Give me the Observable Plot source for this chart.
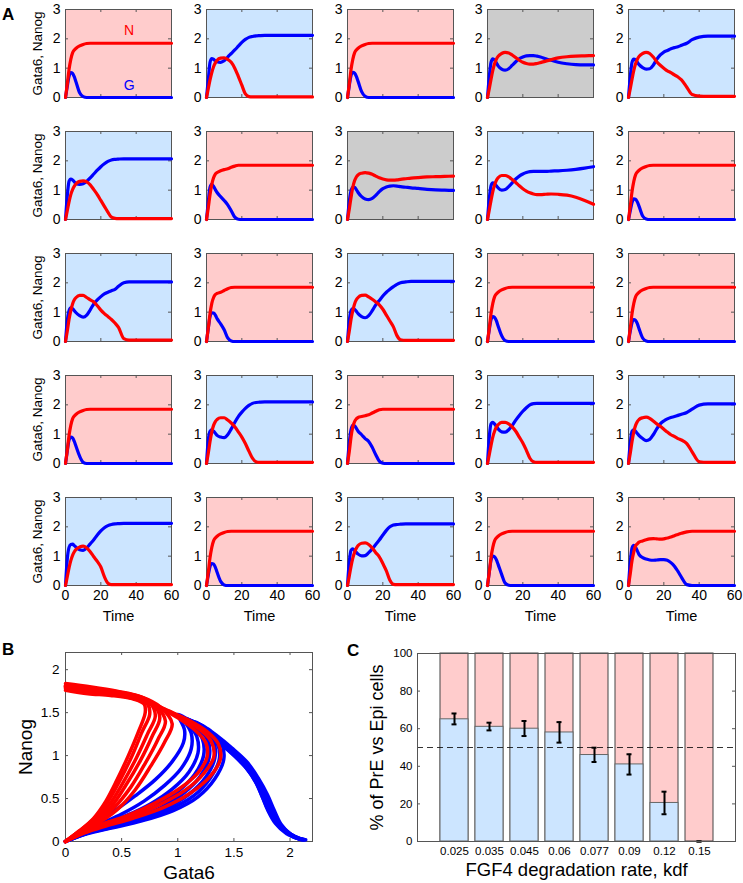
<!DOCTYPE html>
<html><head><meta charset="utf-8">
<script src="https://cdn.jsdelivr.net/npm/d3@7"></script>
<script src="https://cdn.jsdelivr.net/npm/@observablehq/plot@0.6"></script>
<style>
body{margin:0;background:#fff;}
#root{position:relative;width:743px;height:883px;font-family:"Liberation Sans",Arial,Helvetica,sans-serif;overflow:hidden;}
#root svg{position:absolute;overflow:visible;}
.letter{position:absolute;font-weight:bold;font-size:17px;line-height:17px;font-family:"Liberation Sans",Arial,sans-serif;}
</style></head><body><div id="root"></div>
<script>
// ---------- Panel A data ----------
const time = [0,1,2,3,4,5,6,8,10,12,14,16,18,20,22,24,26,28,30,33,36,40,45,50,55,60];
const fates = ["Epi","PrE","Epi","Und","PrE",
               "PrE","Epi","Und","PrE","Epi",
               "PrE","Epi","PrE","Epi","Epi",
               "Epi","PrE","Epi","PrE","PrE",
               "PrE","Epi","PrE","Epi","Epi"];
const gata6 = [
 [0,0.38,0.72,0.85,0.82,0.7,0.52,0.16,0.03,0,0,0,0,0,0,0,0,0,0,0,0,0,0,0,0,0],
 [0,0.6,1.2,1.33,1.3,1.25,1.22,1.2,1.25,1.38,1.5,1.62,1.75,1.88,1.98,2.05,2.08,2.1,2.11,2.12,2.12,2.12,2.12,2.12,2.12,2.12],
 [0,0.4,0.75,0.86,0.83,0.72,0.55,0.2,0.04,0,0,0,0,0,0,0,0,0,0,0,0,0,0,0,0,0],
 [0,0.7,1.2,1.32,1.28,1.18,1.08,0.97,0.93,0.98,1.1,1.22,1.32,1.38,1.42,1.43,1.43,1.41,1.38,1.32,1.27,1.2,1.15,1.12,1.11,1.11],
 [0,0.7,1.2,1.31,1.28,1.2,1.12,1.02,0.97,0.98,1.1,1.3,1.45,1.55,1.6,1.66,1.7,1.73,1.78,1.85,1.97,2.06,2.09,2.09,2.09,2.09],
 [0,0.8,1.3,1.38,1.35,1.28,1.22,1.2,1.22,1.3,1.42,1.55,1.68,1.8,1.9,1.98,2.03,2.05,2.06,2.07,2.07,2.07,2.07,2.07,2.07,2.07],
 [0,0.6,1.1,1.2,1.13,1.02,0.92,0.78,0.65,0.5,0.3,0.08,0.01,0,0,0,0,0,0,0,0,0,0,0,0,0],
 [0,0.6,0.98,1.1,1.1,1.02,0.92,0.78,0.7,0.68,0.72,0.82,0.95,1.05,1.11,1.14,1.15,1.14,1.12,1.1,1.08,1.06,1.03,1.01,1.0,0.99],
 [0,0.7,1.15,1.25,1.22,1.15,1.08,1.0,1.02,1.12,1.25,1.38,1.48,1.55,1.6,1.63,1.64,1.64,1.64,1.64,1.65,1.66,1.68,1.71,1.75,1.8],
 [0,0.3,0.58,0.7,0.69,0.6,0.45,0.12,0.02,0,0,0,0,0,0,0,0,0,0,0,0,0,0,0,0,0],
 [0,0.7,1.05,1.15,1.12,1.05,0.98,0.88,0.83,0.9,1.08,1.28,1.42,1.53,1.62,1.68,1.73,1.78,1.88,2.0,2.03,2.03,2.03,2.03,2.03,2.03],
 [0,0.45,0.85,0.98,0.97,0.9,0.78,0.6,0.4,0.12,0.02,0,0,0,0,0,0,0,0,0,0,0,0,0,0,0],
 [0,0.7,1.05,1.12,1.1,1.03,0.95,0.85,0.81,0.88,1.05,1.25,1.4,1.55,1.68,1.78,1.87,1.95,2.0,2.03,2.05,2.05,2.05,2.05,2.05,2.05],
 [0,0.4,0.75,0.85,0.82,0.71,0.53,0.2,0.03,0,0,0,0,0,0,0,0,0,0,0,0,0,0,0,0,0],
 [0,0.35,0.65,0.75,0.72,0.61,0.43,0.12,0.02,0,0,0,0,0,0,0,0,0,0,0,0,0,0,0,0,0],
 [0,0.42,0.8,0.9,0.87,0.75,0.58,0.25,0.04,0,0,0,0,0,0,0,0,0,0,0,0,0,0,0,0,0],
 [0,0.8,1.1,1.15,1.1,1.03,0.96,0.9,0.88,0.98,1.18,1.4,1.6,1.75,1.88,1.98,2.05,2.08,2.09,2.1,2.1,2.1,2.1,2.1,2.1,2.1],
 [0,0.7,1.15,1.3,1.28,1.2,1.1,0.98,0.85,0.75,0.55,0.3,0.08,0.01,0,0,0,0,0,0,0,0,0,0,0,0],
 [0,0.9,1.35,1.4,1.35,1.26,1.18,1.08,1.07,1.15,1.3,1.48,1.64,1.78,1.9,2.0,2.04,2.05,2.05,2.05,2.05,2.05,2.05,2.05,2.05,2.05],
 [0,0.7,1.1,1.15,1.1,1.02,0.95,0.85,0.78,0.82,0.98,1.18,1.35,1.45,1.52,1.57,1.6,1.64,1.68,1.74,1.85,1.99,2.03,2.03,2.03,2.03],
 [0,0.9,1.3,1.4,1.41,1.36,1.3,1.22,1.2,1.28,1.42,1.56,1.72,1.86,1.97,2.04,2.08,2.1,2.11,2.12,2.12,2.12,2.12,2.12,2.12,2.12],
 [0,0.35,0.65,0.75,0.73,0.62,0.45,0.14,0.02,0,0,0,0,0,0,0,0,0,0,0,0,0,0,0,0,0],
 [0,0.8,1.2,1.25,1.2,1.13,1.07,1.01,1.02,1.12,1.25,1.4,1.55,1.72,1.88,2.0,2.06,2.08,2.09,2.1,2.1,2.1,2.1,2.1,2.1,2.1],
 [0,0.45,0.86,1.0,0.98,0.88,0.72,0.38,0.08,0.01,0,0,0,0,0,0,0,0,0,0,0,0,0,0,0,0],
 [0,0.8,1.28,1.37,1.3,1.18,1.05,0.95,0.9,0.87,0.86,0.87,0.88,0.88,0.86,0.78,0.66,0.48,0.28,0.03,0,0,0,0,0,0]
];
const nanog = [
 [0,0.45,0.95,1.3,1.52,1.62,1.68,1.76,1.81,1.84,1.85,1.85,1.85,1.85,1.85,1.85,1.85,1.85,1.85,1.85,1.85,1.85,1.85,1.85,1.85,1.85],
 [0,0.3,0.6,0.85,1.05,1.18,1.27,1.34,1.35,1.3,1.2,1.0,0.72,0.42,0.12,0.03,0.02,0.02,0.02,0.02,0.02,0.02,0.02,0.02,0.02,0.02],
 [0,0.45,0.95,1.3,1.52,1.62,1.68,1.76,1.81,1.84,1.85,1.85,1.85,1.85,1.85,1.85,1.85,1.85,1.85,1.85,1.85,1.85,1.85,1.85,1.85,1.85],
 [0,0.3,0.62,0.92,1.15,1.3,1.4,1.5,1.54,1.52,1.45,1.36,1.27,1.2,1.16,1.14,1.14,1.16,1.19,1.24,1.29,1.35,1.39,1.41,1.42,1.43],
 [0,0.3,0.62,0.92,1.15,1.3,1.4,1.5,1.54,1.5,1.38,1.22,1.1,1.0,0.91,0.85,0.77,0.7,0.6,0.35,0.1,0.05,0.04,0.04,0.04,0.04],
 [0,0.3,0.6,0.85,1.02,1.14,1.22,1.3,1.32,1.28,1.18,1.02,0.85,0.65,0.45,0.25,0.08,0.04,0.03,0.03,0.03,0.03,0.03,0.03,0.03,0.03],
 [0,0.4,0.85,1.2,1.42,1.55,1.6,1.66,1.7,1.73,1.78,1.82,1.85,1.85,1.85,1.85,1.85,1.85,1.85,1.85,1.85,1.85,1.85,1.85,1.85,1.85],
 [0,0.35,0.75,1.1,1.32,1.45,1.52,1.58,1.6,1.58,1.54,1.48,1.42,1.38,1.35,1.34,1.34,1.35,1.37,1.39,1.41,1.43,1.45,1.46,1.47,1.48],
 [0,0.32,0.65,0.95,1.18,1.33,1.42,1.5,1.5,1.45,1.36,1.26,1.15,1.05,0.97,0.91,0.87,0.85,0.85,0.86,0.87,0.86,0.83,0.76,0.65,0.52],
 [0,0.45,0.95,1.3,1.52,1.62,1.68,1.76,1.81,1.84,1.85,1.85,1.85,1.85,1.85,1.85,1.85,1.85,1.85,1.85,1.85,1.85,1.85,1.85,1.85,1.85],
 [0,0.35,0.75,1.05,1.28,1.42,1.5,1.57,1.57,1.5,1.42,1.35,1.22,1.07,0.95,0.85,0.75,0.63,0.48,0.1,0.05,0.05,0.05,0.05,0.05,0.05],
 [0,0.45,0.95,1.3,1.5,1.6,1.64,1.68,1.74,1.8,1.84,1.85,1.85,1.85,1.85,1.85,1.85,1.85,1.85,1.85,1.85,1.85,1.85,1.85,1.85,1.85],
 [0,0.35,0.75,1.05,1.28,1.42,1.5,1.57,1.58,1.52,1.44,1.35,1.25,1.1,0.9,0.7,0.5,0.2,0.06,0.04,0.04,0.04,0.04,0.04,0.04,0.04],
 [0,0.45,0.95,1.3,1.52,1.62,1.68,1.76,1.81,1.84,1.85,1.85,1.85,1.85,1.85,1.85,1.85,1.85,1.85,1.85,1.85,1.85,1.85,1.85,1.85,1.85],
 [0,0.45,0.95,1.3,1.52,1.62,1.68,1.76,1.81,1.84,1.85,1.85,1.85,1.85,1.85,1.85,1.85,1.85,1.85,1.85,1.85,1.85,1.85,1.85,1.85,1.85],
 [0,0.45,0.95,1.3,1.52,1.62,1.68,1.76,1.81,1.84,1.85,1.85,1.85,1.85,1.85,1.85,1.85,1.85,1.85,1.85,1.85,1.85,1.85,1.85,1.85,1.85],
 [0,0.35,0.75,1.08,1.3,1.43,1.5,1.56,1.56,1.48,1.38,1.25,1.08,0.9,0.68,0.42,0.18,0.06,0.04,0.04,0.04,0.04,0.04,0.04,0.04,0.04],
 [0,0.4,0.9,1.25,1.43,1.52,1.57,1.6,1.63,1.66,1.72,1.78,1.83,1.85,1.85,1.85,1.85,1.85,1.85,1.85,1.85,1.85,1.85,1.85,1.85,1.85],
 [0,0.3,0.62,0.9,1.1,1.24,1.32,1.4,1.4,1.35,1.25,1.1,0.9,0.7,0.45,0.18,0.06,0.04,0.04,0.04,0.04,0.04,0.04,0.04,0.04,0.04],
 [0,0.35,0.75,1.08,1.3,1.43,1.5,1.56,1.58,1.54,1.45,1.35,1.27,1.17,1.07,0.98,0.92,0.85,0.8,0.68,0.4,0.06,0.04,0.04,0.04,0.04],
 [0,0.3,0.6,0.85,1.03,1.15,1.23,1.31,1.34,1.28,1.15,0.98,0.82,0.63,0.3,0.08,0.03,0.03,0.03,0.03,0.03,0.03,0.03,0.03,0.03,0.03],
 [0,0.45,0.95,1.3,1.52,1.62,1.68,1.76,1.81,1.84,1.85,1.85,1.85,1.85,1.85,1.85,1.85,1.85,1.85,1.85,1.85,1.85,1.85,1.85,1.85,1.85],
 [0,0.32,0.65,0.93,1.13,1.27,1.36,1.44,1.45,1.4,1.28,1.12,0.98,0.75,0.5,0.18,0.04,0.03,0.03,0.03,0.03,0.03,0.03,0.03,0.03,0.03],
 [0,0.45,0.95,1.3,1.52,1.62,1.68,1.76,1.81,1.84,1.85,1.85,1.85,1.85,1.85,1.85,1.85,1.85,1.85,1.85,1.85,1.85,1.85,1.85,1.85,1.85],
 [0,0.4,0.85,1.15,1.35,1.42,1.48,1.52,1.56,1.59,1.6,1.59,1.58,1.59,1.62,1.65,1.7,1.74,1.78,1.83,1.85,1.85,1.85,1.85,1.85,1.85]
];
const timeTicks = [0,20,40,60];
const levelTicks = [0,1,2,3];
const curveLabels = [{s:"N", t:36, v:2.28, c:"#ff0000"},{s:"G", t:36, v:0.42, c:"#0000ff"}];

// ---------- Panel B data: phase-plane trajectories [Gata6, Nanog] ----------
const blueTraj = [
 [[0,0],[0.14,0.11],[0.28,0.23],[0.45,0.37],[0.62,0.53],[0.8,0.72],[0.95,0.93],[1.05,1.15],[1.06,1.3],[1.02,1.42],[1.0,1.48],[1.08,1.43],[1.2,1.33],[1.34,1.19],[1.48,1.03],[1.6,0.87],[1.69,0.7],[1.75,0.53],[1.8,0.37],[1.87,0.21],[1.97,0.09],[2.08,0.03]],
 [[0,0],[0.15,0.1],[0.3,0.2],[0.5,0.32],[0.7,0.47],[0.88,0.65],[1.03,0.85],[1.12,1.08],[1.12,1.26],[1.07,1.38],[1.03,1.45],[1.1,1.41],[1.22,1.31],[1.36,1.16],[1.5,1.0],[1.62,0.84],[1.7,0.68],[1.76,0.5],[1.82,0.33],[1.9,0.18],[2.0,0.08],[2.1,0.02]],
 [[0,0],[0.16,0.1],[0.32,0.19],[0.54,0.3],[0.76,0.44],[0.95,0.61],[1.1,0.81],[1.18,1.03],[1.17,1.22],[1.1,1.36],[1.05,1.44],[1.12,1.4],[1.24,1.3],[1.38,1.15],[1.52,0.99],[1.64,0.82],[1.72,0.65],[1.78,0.47],[1.84,0.3],[1.92,0.16],[2.02,0.06],[2.11,0.02]],
 [[0,0],[0.17,0.1],[0.34,0.18],[0.58,0.28],[0.8,0.41],[1.0,0.58],[1.15,0.78],[1.23,1.0],[1.22,1.19],[1.14,1.34],[1.07,1.43],[1.14,1.39],[1.26,1.28],[1.4,1.13],[1.54,0.97],[1.66,0.8],[1.74,0.62],[1.8,0.44],[1.86,0.27],[1.94,0.14],[2.04,0.05],[2.12,0.02]],
 [[0,0],[0.17,0.09],[0.36,0.17],[0.6,0.26],[0.84,0.39],[1.05,0.56],[1.2,0.76],[1.28,0.98],[1.27,1.17],[1.18,1.32],[1.09,1.42],[1.16,1.38],[1.28,1.27],[1.42,1.12],[1.56,0.96],[1.67,0.78],[1.75,0.6],[1.81,0.42],[1.87,0.26],[1.95,0.13],[2.05,0.05],[2.12,0.02]],
 [[0,0],[0.18,0.09],[0.38,0.17],[0.62,0.26],[0.88,0.38],[1.1,0.55],[1.25,0.75],[1.33,0.97],[1.32,1.16],[1.22,1.31],[1.11,1.41],[1.18,1.37],[1.3,1.26],[1.44,1.11],[1.58,0.95],[1.69,0.77],[1.77,0.58],[1.83,0.4],[1.89,0.24],[1.97,0.12],[2.07,0.04],[2.13,0.02]],
 [[0,0],[0.18,0.09],[0.4,0.16],[0.65,0.25],[0.92,0.37],[1.14,0.53],[1.29,0.74],[1.37,0.96],[1.35,1.15],[1.25,1.3],[1.13,1.4],[1.2,1.36],[1.32,1.25],[1.46,1.1],[1.6,0.93],[1.7,0.75],[1.78,0.56],[1.84,0.38],[1.9,0.22],[1.98,0.1],[2.08,0.04],[2.13,0.02]],
 [[0,0],[0.19,0.09],[0.42,0.16],[0.68,0.24],[0.96,0.36],[1.18,0.52],[1.33,0.73],[1.41,0.96],[1.39,1.14],[1.29,1.29],[1.16,1.39],[1.22,1.35],[1.34,1.24],[1.48,1.09],[1.62,0.92],[1.72,0.73],[1.8,0.54],[1.86,0.36],[1.92,0.2],[2.0,0.09],[2.09,0.03],[2.14,0.02]]
];
const redTraj = [
 [[0,0],[0.12,0.12],[0.25,0.27],[0.36,0.47],[0.46,0.72],[0.56,1.0],[0.65,1.28],[0.71,1.5],[0.7,1.6],[0.6,1.66],[0.4,1.7],[0.2,1.72],[0,1.76]],
 [[0,0],[0.12,0.12],[0.25,0.26],[0.37,0.45],[0.48,0.7],[0.59,0.99],[0.68,1.27],[0.75,1.48],[0.73,1.6],[0.62,1.67],[0.42,1.72],[0.2,1.75],[0,1.78]],
 [[0,0],[0.12,0.11],[0.26,0.25],[0.39,0.43],[0.51,0.68],[0.63,0.97],[0.73,1.25],[0.8,1.46],[0.76,1.6],[0.64,1.68],[0.44,1.73],[0.22,1.77],[0,1.8]],
 [[0,0],[0.12,0.11],[0.27,0.24],[0.41,0.41],[0.54,0.66],[0.67,0.95],[0.77,1.22],[0.84,1.44],[0.78,1.6],[0.65,1.69],[0.45,1.74],[0.22,1.78],[0,1.82]],
 [[0,0],[0.13,0.11],[0.28,0.23],[0.43,0.39],[0.58,0.63],[0.71,0.91],[0.82,1.18],[0.89,1.4],[0.8,1.59],[0.66,1.69],[0.46,1.75],[0.23,1.8],[0,1.84]],
 [[0,0],[0.13,0.1],[0.3,0.22],[0.46,0.37],[0.62,0.6],[0.76,0.88],[0.88,1.15],[0.95,1.37],[0.84,1.57],[0.68,1.68],[0.47,1.74],[0.24,1.78],[0,1.81]],
 [[0,0],[0.15,0.11],[0.32,0.2],[0.55,0.3],[0.8,0.45],[1.02,0.62],[1.18,0.8],[1.26,0.98],[1.25,1.15],[1.15,1.3],[1.0,1.44],[0.85,1.55],[0.72,1.62],[0.5,1.7],[0.25,1.75],[0,1.79]],
 [[0,0],[0.16,0.1],[0.34,0.19],[0.58,0.29],[0.84,0.43],[1.07,0.6],[1.23,0.79],[1.32,0.98],[1.3,1.16],[1.2,1.3],[1.05,1.43],[0.88,1.54],[0.74,1.62],[0.5,1.7],[0.25,1.76],[0,1.81]],
 [[0,0],[0.17,0.1],[0.36,0.18],[0.6,0.27],[0.88,0.4],[1.12,0.57],[1.29,0.76],[1.38,0.96],[1.36,1.14],[1.26,1.28],[1.1,1.41],[0.92,1.52],[0.76,1.61],[0.52,1.69],[0.26,1.75],[0,1.8]]
];
const phaseTicks = [0,0.5,1,1.5,2];

// ---------- Panel C data ----------
const kdf = ["0.025","0.035","0.045","0.06","0.077","0.09","0.12","0.15"];
const prePercent = [65,61,60,58,46,41,20.5,0];
const errLow = [62.3,59.1,56.1,52.6,42.3,35.6,14.5,0];
const errHigh = [68.1,63.2,64.1,63.5,49.9,46.4,26.5,0];
const percentTicks = [0,20,40,60,80,100];

// ---------- drawing ----------
const root = document.getElementById("root");
const FONT = "Liberation Sans, Arial, Helvetica, sans-serif";
const fill = {Epi:"#ffcccc", PrE:"#cce5ff", Und:"#cccccc"};
const RED = "#ff0000", BLUE = "#0000ff", BOX = "#555555";
const fmt = d => String(d);
function place(svg, left, top){ svg.style.left = left+"px"; svg.style.top = top+"px"; root.appendChild(svg); }
// tick labels drawn as text marks through the scales
const yLabels = (ticks, size, pad) => Plot.text(ticks, {y: d=>d, text: fmt, frameAnchor: "left", textAnchor: "end", lineAnchor: "middle", dx: -pad, fontSize: size, fill: "#000"});
const xLabels = (ticks, size, pad) => Plot.text(ticks, {x: d=>d, text: fmt, frameAnchor: "bottom", textAnchor: "middle", lineAnchor: "top", dy: pad, fontSize: size, fill: "#000"});

const colLeft = [65,206,347,487,628], rowTop = [9,131,253,375,497], FW = 106, FH = 88;
for (let i = 0; i < 25; i++) {
  const r = Math.floor(i/5), c = i%5;
  const ml = c === 0 ? 52 : 26, mt = 8, mr = 6, mb = r === 4 ? 44 : 6;
  const rows = time.map((t,k) => ({t, g: gata6[i][k], n: nanog[i][k]}));
  const marks = [
    Plot.frame({fill: fill[fates[i]], stroke: null}),
    Plot.tickY([1,2], {y: d=>d, stroke: BOX, insetRight: FW-3}),
    Plot.tickY([1,2], {y: d=>d, stroke: BOX, insetLeft: FW-3}),
    Plot.tickX([20,40], {x: d=>d, stroke: BOX, insetBottom: FH-3}),
    Plot.tickX([20,40], {x: d=>d, stroke: BOX, insetTop: FH-3}),
    Plot.frame({stroke: BOX, strokeWidth: 1}),
    Plot.lineY(rows, {x: "t", y: "g", stroke: BLUE, strokeWidth: 3.2, curve: "monotone-x"}),
    Plot.lineY(rows, {x: "t", y: "n", stroke: RED, strokeWidth: 3.2, curve: "monotone-x"}),
    yLabels(levelTicks, 14, 5)
  ];
  if (i === 0) marks.push(Plot.text(curveLabels, {x: "t", y: "v", text: "s", fill: "c", fontSize: 14}));
  if (c === 0) marks.push(Plot.text(["Gata6, Nanog"], {text: d=>d, frameAnchor: "left", textAnchor: "middle", lineAnchor: "middle", dx: -28, rotate: -90, fontSize: 13.5}));
  if (r === 4) {
    marks.push(xLabels(timeTicks, 14, 5));
    marks.push(Plot.text(["Time"], {text: d=>d, frameAnchor: "bottom", textAnchor: "middle", lineAnchor: "middle", dy: 31, fontSize: 14.5}));
  }
  const svg = Plot.plot({
    width: ml+FW+mr, height: mt+FH+mb,
    marginLeft: ml, marginTop: mt, marginRight: mr, marginBottom: mb,
    x: {domain: [0,60], axis: null}, y: {domain: [0,3], axis: null},
    style: {background: "none", fontFamily: FONT, fontSize: "14px", overflow: "visible", color: "#000"},
    marks
  });
  place(svg, colLeft[c]-ml, rowTop[r]-mt);
}

// Panel B
{
  const L = 65, Tp = 652, W = 247, H = 189, ml = 52, mt = 6, mr = 8, mb = 44;
  const marks = [
    Plot.tickX(phaseTicks.slice(1), {x: d=>d, stroke: BOX, insetBottom: H-3}),
    Plot.tickX(phaseTicks.slice(1), {x: d=>d, stroke: BOX, insetTop: H-3}),
    Plot.tickY(phaseTicks.slice(1), {y: d=>d, stroke: BOX, insetRight: W-3}),
    Plot.tickY(phaseTicks.slice(1), {y: d=>d, stroke: BOX, insetLeft: W-3}),
    Plot.frame({stroke: BOX})
  ];
  blueTraj.forEach(tr => marks.push(Plot.line(tr, {x: d=>d[0], y: d=>d[1], stroke: BLUE, strokeWidth: 3.5, curve: "catmull-rom"})));
  redTraj.forEach(tr => marks.push(Plot.line(tr, {x: d=>d[0], y: d=>d[1], stroke: RED, strokeWidth: 3.5, curve: "catmull-rom"})));
  marks.push(
    xLabels(phaseTicks, 13.5, 6),
    yLabels(phaseTicks, 13.5, 6),
    Plot.text(["Gata6"], {text: d=>d, frameAnchor: "bottom", textAnchor: "middle", lineAnchor: "middle", dy: 31, fontSize: 19}),
    Plot.text(["Nanog"], {text: d=>d, frameAnchor: "left", textAnchor: "middle", lineAnchor: "middle", dx: -40, rotate: -90, fontSize: 19})
  );
  const svg = Plot.plot({
    width: ml+W+mr, height: mt+H+mb, marginLeft: ml, marginTop: mt, marginRight: mr, marginBottom: mb,
    x: {domain: [0,2.2], axis: null}, y: {domain: [0,2.2], axis: null},
    style: {background: "none", fontFamily: FONT, fontSize: "13.5px", overflow: "visible", color: "#000"},
    marks
  });
  place(svg, L-ml, Tp-mt);
}

// Panel C
{
  const L = 417, Tp = 653, W = 318, H = 188, ml = 52, mt = 6, mr = 6, mb = 44;
  const data = kdf.map((k,i) => ({k, v: prePercent[i], lo: errLow[i], hi: errHigh[i]}));
  const svg = Plot.plot({
    width: ml+W+mr, height: mt+H+mb, marginLeft: ml, marginTop: mt, marginRight: mr, marginBottom: mb,
    x: {type: "band", domain: kdf, paddingInner: 0.2, paddingOuter: 0.6, axis: null},
    y: {domain: [0,100], axis: null},
    style: {background: "none", fontFamily: FONT, fontSize: "11.5px", overflow: "visible", color: "#000"},
    marks: [
      Plot.barY(data, {x: "k", y1: 0, y2: 100, fill: "#ffcccc", stroke: "#444", strokeWidth: 1}),
      Plot.barY(data, {x: "k", y1: 0, y2: "v", fill: "#cce5ff", stroke: "#666", strokeWidth: 1}),
      Plot.ruleY([50], {stroke: "#000", strokeWidth: 0.8, strokeDasharray: "6,4"}),
      Plot.ruleX(data, {x: "k", y1: "lo", y2: "hi", stroke: "#000", strokeWidth: 2}),
      Plot.tickY(data, {x: "k", y: "lo", stroke: "#000", strokeWidth: 2, insetLeft: 11.5, insetRight: 11.5}),
      Plot.tickY(data, {x: "k", y: "hi", stroke: "#000", strokeWidth: 2, insetLeft: 11.5, insetRight: 11.5}),
      Plot.tickY(percentTicks.slice(1,-1), {y: d=>d, stroke: BOX, insetRight: W-3}),
      Plot.tickY(percentTicks.slice(1,-1), {y: d=>d, stroke: BOX, insetLeft: W-3}),
      Plot.frame({stroke: BOX}),
      yLabels(percentTicks, 11.5, 5),
      Plot.text(kdf, {x: d=>d, text: d=>d, frameAnchor: "bottom", textAnchor: "middle", lineAnchor: "top", dy: 5, fontSize: 11.5, fill: "#000"}),
      Plot.text(["FGF4 degradation rate, kdf"], {text: d=>d, frameAnchor: "bottom", textAnchor: "middle", lineAnchor: "middle", dy: 29, fontSize: 18.5}),
      Plot.text(["% of PrE vs Epi cells"], {text: d=>d, frameAnchor: "left", textAnchor: "middle", lineAnchor: "middle", dx: -40, rotate: -90, fontSize: 18})
    ]
  });
  place(svg, L-ml, Tp-mt);
}

// panel letters
[["A",2,6],["B",2,641],["C",347,642]].forEach(([s,x,y]) => {
  const d = document.createElement("div"); d.className = "letter"; d.textContent = s;
  d.style.left = x+"px"; d.style.top = y+"px"; root.appendChild(d);
});
</script></body></html>
